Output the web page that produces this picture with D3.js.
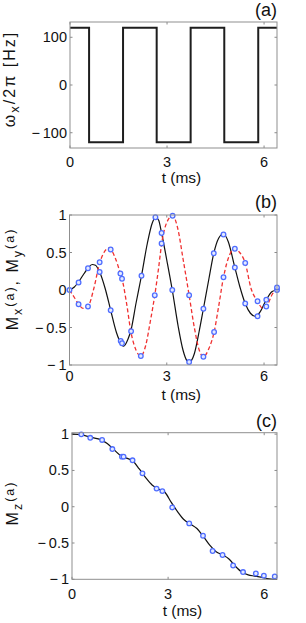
<!DOCTYPE html>
<html>
<head>
<meta charset="utf-8">
<script src="https://cdn.jsdelivr.net/npm/d3@7"></script>
<style>
  html, body { margin: 0; padding: 0; background: #fff; }
  svg { display: block; }
  text { font-family: "Liberation Sans", Arial, sans-serif; fill: #111; }
</style>
</head>
<body>
<svg id="chart" width="306" height="623"></svg>
<script>
// ---------- data ----------
const xTicks = [0, 3, 6];
const xTickLabels = ["0", "3", "6"];

// panel (a): square wave omega_x / 2pi [Hz]
const waveT = [0, 0.59, 1.64, 2.68, 3.73, 4.77, 5.82, 6.4];
const waveV = [120, -120, 120, -120, 120, -120, 120, 120];
const aTicks = [-100, 0, 100];
const aTickLabels = ["\u2212\u2009100", "0", "100"];

// panel (b): Mx (black, solid) and My (red, dashed)
const mxT = [0, 0.15, 0.3, 0.45, 0.57, 0.7, 0.8, 0.93, 1.1, 1.27, 1.45, 1.6, 1.67, 1.8, 1.9, 2.05, 2.22, 2.4, 2.55, 2.66, 2.75, 2.84, 3.0, 3.17, 3.35, 3.5, 3.62, 3.7, 3.85, 4.0, 4.13, 4.3, 4.45, 4.6, 4.75, 4.9, 5.1, 5.25, 5.42, 5.58, 5.72, 5.85, 6.07, 6.25, 6.4];
const mxV = [0, 0.04, 0.12, 0.22, 0.29, 0.34, 0.33, 0.24, 0.02, -0.27, -0.57, -0.72, -0.75, -0.66, -0.53, -0.18, 0.19, 0.62, 0.89, 0.97, 0.93, 0.76, 0.40, 0.0, -0.48, -0.80, -0.94, -0.96, -0.85, -0.55, -0.25, 0.15, 0.49, 0.69, 0.75, 0.64, 0.30, 0.05, -0.18, -0.31, -0.35, -0.31, -0.13, -0.02, 0.0];
const myT = [0, 0.15, 0.28, 0.43, 0.57, 0.75, 0.93, 1.05, 1.22, 1.4, 1.57, 1.62, 1.75, 1.9, 2.05, 2.2, 2.35, 2.5, 2.63, 2.75, 2.84, 3.0, 3.18, 3.35, 3.5, 3.69, 3.85, 4.0, 4.13, 4.3, 4.46, 4.6, 4.75, 4.95, 5.1, 5.25, 5.42, 5.6, 5.8, 5.95, 6.07, 6.25, 6.4];
const myV = [0, -0.10, -0.19, -0.245, -0.22, 0.02, 0.36, 0.49, 0.56, 0.44, 0.22, 0.15, -0.15, -0.57, -0.80, -0.88, -0.74, -0.40, -0.07, 0.30, 0.61, 0.90, 0.99, 0.80, 0.42, -0.07, -0.50, -0.80, -0.89, -0.78, -0.56, -0.22, 0.17, 0.48, 0.55, 0.50, 0.36, 0.02, -0.15, -0.24, -0.22, -0.06, 0.03];
// simulated points (blue circles)
const mxPtT = [0, 0.28, 0.57, 0.93, 1.27, 1.58, 1.62, 1.90, 2.22, 2.65, 2.84, 3.17, 3.69, 4.13, 4.45, 4.75, 5.10, 5.42, 5.80, 6.07, 6.40];
const mxPtV = [0, 0.10, 0.29, 0.24, -0.27, -0.68, -0.71, -0.55, 0.19, 0.97, 0.76, 0.0, -0.96, -0.25, 0.49, 0.74, 0.30, -0.18, -0.35, -0.13, 0.0];
const myPtT = [0.28, 0.57, 0.93, 1.27, 1.57, 1.62, 2.20, 2.63, 2.84, 3.18, 3.69, 4.13, 4.46, 4.75, 5.10, 5.42, 5.80, 6.07, 6.40];
const myPtV = [-0.19, -0.22, 0.37, 0.54, 0.22, 0.15, -0.88, -0.07, 0.62, 0.99, -0.07, -0.89, -0.56, 0.17, 0.55, 0.36, -0.15, -0.22, 0.035];
const bTicks = [-1, -0.5, 0, 0.5, 1];
const bTickLabels = ["\u2212\u20091", "\u2212\u20090.5", "0", "0.5", "1"];

// panel (c): Mz
const mzT = [0, 0.3, 0.6, 0.9, 1.1, 1.3, 1.5, 1.7, 1.9, 2.1, 2.3, 2.5, 2.7, 2.9, 3.1, 3.3, 3.5, 3.7, 3.9, 4.1, 4.3, 4.5, 4.7, 4.9, 5.1, 5.3, 5.5, 5.7, 5.9, 6.1, 6.3, 6.4];
const mzV = [1.0, 0.99, 0.955, 0.925, 0.87, 0.79, 0.71, 0.67, 0.63, 0.52, 0.40, 0.30, 0.245, 0.20, 0.06, -0.07, -0.18, -0.24, -0.30, -0.41, -0.53, -0.62, -0.665, -0.72, -0.82, -0.90, -0.94, -0.955, -0.97, -0.99, -1.0, -1.0];
const mzPtT = [0.29, 0.57, 0.94, 1.26, 1.56, 1.61, 1.89, 2.20, 2.64, 2.82, 3.13, 3.66, 4.09, 4.39, 4.70, 5.03, 5.34, 5.74, 5.99, 6.33];
const mzPtV = [0.997, 0.95, 0.92, 0.795, 0.69, 0.69, 0.64, 0.46, 0.25, 0.215, -0.01, -0.23, -0.40, -0.61, -0.665, -0.81, -0.90, -0.92, -0.95, -0.96];
const cTicks = [-1, -0.5, 0, 0.5, 1];
const cTickLabels = ["\u2212\u20091", "\u2212\u20090.5", "0", "0.5", "1"];

const panelLabels = ["(a)", "(b)", "(c)"];

// ---------- drawing ----------
const svg = d3.select("#chart");
const zip = (a, b) => a.map((v, i) => [v, b[i]]);

function drawPanel(p) {
  const x = d3.scaleLinear().domain([0, 6.4]).range([p.left, p.right]);
  const y = d3.scaleLinear().domain(p.yDomain).range([p.bottom, p.top]);
  const g = svg.append("g");

  // ticks (inside, all four sides)
  const tl = 2.5;
  const tickColor = "#8a8a8a";
  xTicks.forEach(t => {
    g.append("line").attr("x1", x(t)).attr("x2", x(t)).attr("y1", p.bottom).attr("y2", p.bottom - tl).attr("stroke", tickColor);
    g.append("line").attr("x1", x(t)).attr("x2", x(t)).attr("y1", p.top).attr("y2", p.top + tl).attr("stroke", tickColor);
  });
  p.yTicks.forEach(t => {
    g.append("line").attr("x1", p.left).attr("x2", p.left + tl).attr("y1", y(t)).attr("y2", y(t)).attr("stroke", tickColor);
    g.append("line").attr("x1", p.right).attr("x2", p.right - tl).attr("y1", y(t)).attr("y2", y(t)).attr("stroke", tickColor);
  });

  // data
  p.draw(g, x, y);

  // box
  g.append("rect").attr("x", p.left).attr("y", p.top)
    .attr("width", p.right - p.left).attr("height", p.bottom - p.top)
    .attr("fill", "none").attr("stroke", "#8f8f8f").attr("stroke-width", 1);

  // tick labels
  xTicks.forEach((t, i) => {
    g.append("text").attr("x", x(t)).attr("y", p.xLabelY).attr("text-anchor", "middle")
      .attr("font-size", 14.5).text(xTickLabels[i]);
  });
  p.yTicks.forEach((t, i) => {
    g.append("text").attr("x", p.left - 3).attr("y", y(t) + 5).attr("text-anchor", "end")
      .attr("font-size", 14.5).text(p.yTickLabels[i]);
  });
  // x axis label
  g.append("text").attr("x", (x(0) + x(6.4)) / 2 + 8).attr("y", p.xTitleY).attr("text-anchor", "middle")
    .attr("font-size", 15.5).text("t (ms)");
  // panel label
  g.append("text").attr("x", 277).attr("y", p.tagY).attr("text-anchor", "end")
    .attr("font-size", 18).text(p.tag);
  // y label
  const yl = g.append("text").attr("transform", `translate(${p.yTitleX},${p.yTitleY}) rotate(-90)`)
    .attr("text-anchor", "middle").attr("font-size", 16).attr("letter-spacing", 2);
  p.yTitle(yl);
}

function circles(g, x, y, T, V) {
  g.selectAll(null).data(zip(T, V)).enter().append("circle")
    .attr("cx", d => x(d[0])).attr("cy", d => y(d[1])).attr("r", 2.3)
    .attr("fill", "#e4eaff").attr("stroke", "#4f6dff").attr("stroke-width", 1.3);
}

// (a)
drawPanel({
  left: 70, right: 277, top: 22, bottom: 148,
  yDomain: [-132, 132], yTicks: aTicks, yTickLabels: aTickLabels,
  xLabelY: 167, xTitleY: 183, tag: panelLabels[0], tagY: 16,
  yTitleX: 15, yTitleY: 79,
  yTitle: t => {
    t.append("tspan").text("\u03c9");
    t.append("tspan").attr("dy", 4).attr("font-size", 13).text("x");
    t.append("tspan").attr("dy", -4).text("/2\u03c0 [Hz]");
  },
  draw: (g, x, y) => {
    const line = d3.line().x(d => x(d[0])).y(d => y(d[1])).curve(d3.curveStepAfter);
    g.append("path").datum(zip(waveT, waveV)).attr("d", line)
      .attr("fill", "none").attr("stroke", "#1e1e1e").attr("stroke-width", 2);
  }
});

// (b)
drawPanel({
  left: 69.5, right: 277, top: 215, bottom: 365,
  yDomain: [-1, 1], yTicks: bTicks, yTickLabels: bTickLabels,
  xLabelY: 380.5, xTitleY: 400, tag: panelLabels[1], tagY: 208,
  yTitleX: 18, yTitleY: 279,
  yTitle: t => {
    t.append("tspan").text("M");
    t.append("tspan").attr("dy", 4).attr("font-size", 12.5).text("x");
    t.append("tspan").attr("dy", -8.5).attr("font-size", 12.5).text("(a)");
    t.append("tspan").attr("dy", 4.5).text(", M");
    t.append("tspan").attr("dy", 4).attr("font-size", 12.5).text("y");
    t.append("tspan").attr("dy", -8.5).attr("font-size", 12.5).text("(a)");
  },
  draw: (g, x, y) => {
    const line = d3.line().x(d => x(d[0])).y(d => y(d[1])).curve(d3.curveMonotoneX);
    g.append("path").datum(zip(mxT, mxV)).attr("d", line)
      .attr("fill", "none").attr("stroke", "#111").attr("stroke-width", 1.2);
    g.append("path").datum(zip(myT, myV)).attr("d", line)
      .attr("fill", "none").attr("stroke", "#f03030").attr("stroke-width", 1.3)
      .attr("stroke-dasharray", "4,2.5");
    circles(g, x, y, mxPtT, mxPtV);
    circles(g, x, y, myPtT, myPtV);
  }
});

// (c)
drawPanel({
  left: 72, right: 277, top: 432.7, bottom: 579.3,
  yDomain: [-1, 1.02], yTicks: cTicks, yTickLabels: cTickLabels,
  xLabelY: 598.5, xTitleY: 615.5, tag: panelLabels[2], tagY: 427,
  yTitleX: 18, yTitleY: 503,
  yTitle: t => {
    t.append("tspan").text("M");
    t.append("tspan").attr("dy", 4).attr("font-size", 12.5).text("z");
    t.append("tspan").attr("dy", -8.5).attr("font-size", 12.5).text("(a)");
  },
  draw: (g, x, y) => {
    const line = d3.line().x(d => x(d[0])).y(d => y(d[1])).curve(d3.curveMonotoneX);
    g.append("path").datum(zip(mzT, mzV)).attr("d", line)
      .attr("fill", "none").attr("stroke", "#111").attr("stroke-width", 1.2);
    circles(g, x, y, mzPtT, mzPtV);
  }
});
</script>
</body>
</html>
